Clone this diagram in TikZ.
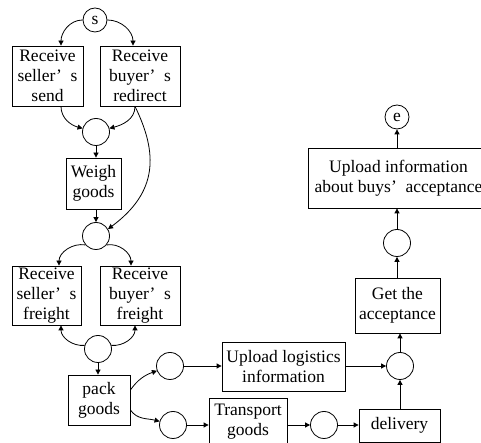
\documentclass[tikz,border=0pt]{standalone}
\usepackage{fontspec}
\setmainfont{Liberation Serif}
\usetikzlibrary{arrows.meta}
\newcommand{\apos}{’\hspace{0.5em}}
\begin{document}
\begin{tikzpicture}[x=1pt,y=1pt,
  font=\fontsize{17.5}{20}\selectfont,
  box/.style={draw, line width=0.8pt, align=center, inner sep=0pt},
  place/.style={draw, circle, line width=0.8pt, minimum size=27pt, inner sep=0pt},
  term/.style={draw, circle, line width=0.8pt, minimum size=24pt, inner sep=0pt},
  arr/.style={line width=0.8pt, -{Triangle[length=5pt,width=5pt]}}]
\useasboundingbox (0,0) rectangle (481,443);
% places
\node[term] (s) at (95,423) {s};
\node[place] (c1) at (96,311) {};
\node[place] (c2) at (96,207) {};
\node[place] (c3) at (98,94) {};
\node[place] (cu) at (170,77) {};
\node[place] (cl) at (173,18) {};
\node[place] (ct) at (324,18) {};
\node[place] (cg) at (400,77) {};
\node[place] (ca) at (397,200) {};
\node[term] (e) at (397,326) {e};
% transitions
\node[box, minimum width=71pt, minimum height=60pt] (send) at (47.5,367) {Receive\\seller\apos s\\send};
\node[box, minimum width=80pt, minimum height=60pt] (redirect) at (140,367) {Receive\\buyer\apos s\\redirect};
\node[box, minimum width=55pt, minimum height=51pt] (weigh) at (93.5,259.5) {Weigh\\goods};
\node[box, minimum width=69pt, minimum height=59pt] (sfreight) at (46.5,147.5) {Receive\\seller\apos s\\freight};
\node[box, minimum width=80pt, minimum height=59pt] (bfreight) at (140,147.5) {Receive\\buyer\apos s\\freight};
\node[box, minimum width=62pt, minimum height=50pt] (pack) at (99,43) {pack\\goods};
\node[box, minimum width=123pt, minimum height=49pt] (uplog) at (283.5,76.5) {Upload logistics\\information};
\node[box, minimum width=78pt, minimum height=48pt] (transport) at (248,21) {Transport\\goods};
\node[box, minimum width=81pt, minimum height=33pt] (delivery) at (399.5,17.5) {delivery};
\node[box, minimum width=85pt, minimum height=55pt] (getacc) at (397.5,137.5) {Get the\\acceptance};
\node[box, minimum width=181pt, minimum height=60pt] (upinfo) at (398.5,265) {Upload information\\about buys\apos acceptance};
% arcs
\draw[arr] (s.west) to[out=180,in=90] ([xshift=13.5pt]send.north);
\draw[arr] (s.east) to[out=0,in=90] ([xshift=-7pt]redirect.north);
\draw[arr] ([xshift=13.5pt]send.south) to[out=-90,in=165] (c1.165);
\draw[arr] ([xshift=-5pt]redirect.south) to[out=-90,in=15] (c1.15);
\draw[arr] ([xshift=-5pt]redirect.south) .. controls +(23,-47) and +(50,37) .. (c2.30);
\draw[arr] (c1.south) -- (c1.south |- weigh.north);
\draw[arr] (c2.north |- weigh.south) -- (c2.north);
\draw[arr] (c2.-140) to[out=170,in=90] ([xshift=12.5pt]sfreight.north);
\draw[arr] (c2.-40) to[out=10,in=90] ([xshift=-9pt]bfreight.north);
\draw[arr] (c3.165) to[out=185,in=-90] ([xshift=14.5pt]sfreight.south);
\draw[arr] (c3.15) to[out=-5,in=-90] ([xshift=-5pt]bfreight.south);
\draw[arr] (c3.south) -- (c3.south |- pack.north);
\draw[arr] ([yshift=10pt]pack.east) to[out=55,in=200] (cu.200);
\draw[arr] ([yshift=-10pt]pack.east) to[out=-55,in=165] (cl.165);
\draw[arr] (cu.east) -- (cu.east -| uplog.west);
\draw[arr] (cg.west -| uplog.east) -- (cg.west);
\draw[arr] (cl.east) -- (cl.east -| transport.west);
\draw[arr] (ct.west -| transport.east) -- (ct.west);
\draw[arr] (ct.east) -- (ct.east -| delivery.west);
\draw[arr] (cg.south |- delivery.north) -- (cg.south);
\draw[arr] (cg.north) -- (cg.north |- getacc.south);
\draw[arr] (ca.south |- getacc.north) -- (ca.south);
\draw[arr] (ca.north) -- (ca.north |- upinfo.south);
\draw[arr] (e.south |- upinfo.north) -- (e.south);
\end{tikzpicture}
\end{document}
